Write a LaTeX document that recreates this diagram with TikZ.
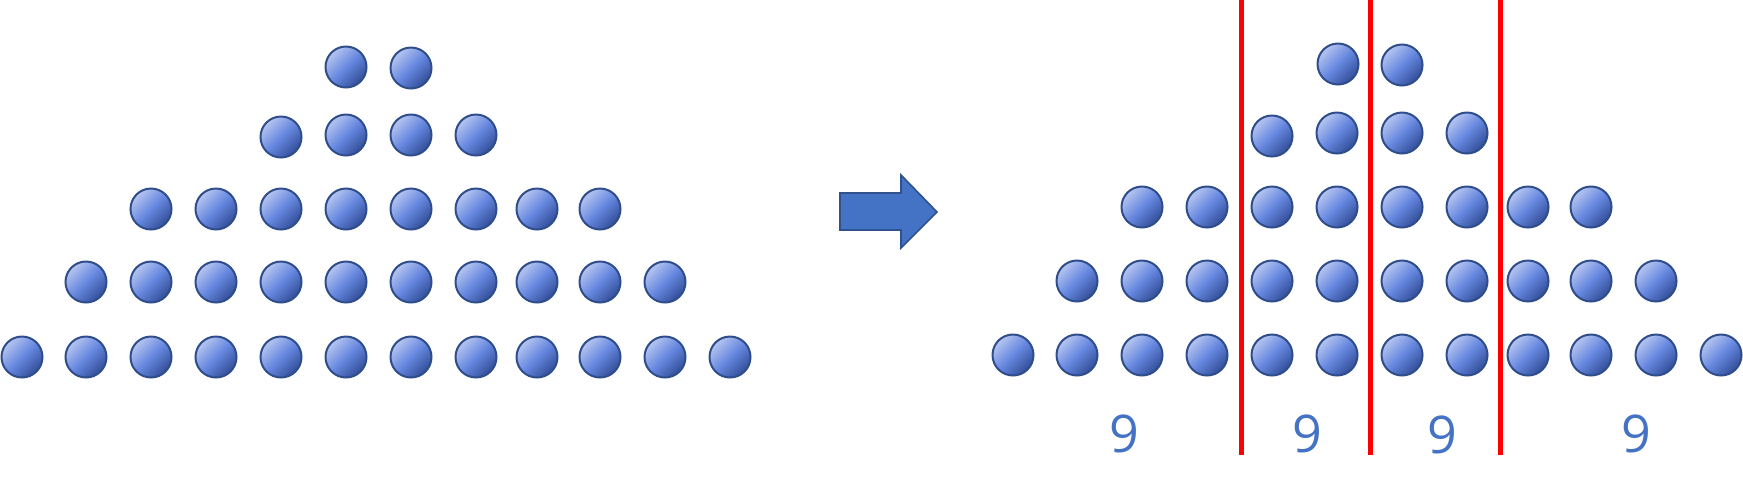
\documentclass[tikz,border=0pt]{standalone}
\usepackage{fontspec}
\newfontfamily\labelfont[Numbers=Lining]{Open Sans}
\definecolor{ballLight}{HTML}{B6C5F0}
\definecolor{ballMid}{HTML}{6788E0}
\definecolor{ballDark}{HTML}{324E98}
\definecolor{ballEdge}{HTML}{2E4D8A}
\definecolor{officeBlue}{HTML}{4472C4}
\definecolor{arrowEdge}{HTML}{2F528F}
\begin{document}
\begin{tikzpicture}[x=0.5pt,y=-0.5pt,
  ball/.style={circle, draw=ballEdge, line width=1pt, minimum size=20.5pt, inner sep=0pt,
    top color=ballLight, bottom color=ballDark, middle color=ballMid, shading angle=45},
  divider/.style={draw=red, line width=2.5pt},
  countlabel/.style={text=officeBlue, font=\labelfont\fontsize{26}{26}\selectfont, anchor=base, inner sep=0pt},
  bigarrow/.style={fill=officeBlue, draw=arrowEdge, line width=0.8pt, line join=miter}]
\useasboundingbox (0,0) rectangle (1743,495);
% ---------- left triangle ----------
\foreach \xx [count=\i] in {22,86,151,216,281,346,411,476,537,600,665,730}
  \node[ball] (La\i) at (\xx,357) {};
\foreach \xx [count=\i] in {86,151,216,281,346,411,476,537,600,665}
  \node[ball] (Lb\i) at (\xx,282) {};
\foreach \xx [count=\i] in {151,216,281,346,411,476,537,600}
  \node[ball] (Lc\i) at (\xx,209) {};
\node[ball] (Ld1) at (281,137) {};
\foreach \xx [count=\i from 2] in {346,411,476}
  \node[ball] (Ld\i) at (\xx,135) {};
\node[ball] (Le1) at (346,67) {};
\node[ball] (Le2) at (411,68) {};
% ---------- arrow ----------
\draw[bigarrow] (840,193) -- (901,193) -- (901,175) -- (937,212) -- (901,248) -- (901,230) -- (840,230) -- cycle;
% ---------- right triangle ----------
\foreach \xx [count=\i] in {1013,1077,1142,1207,1272,1337,1402,1467,1528,1591,1656,1721}
  \node[ball] (Ra\i) at (\xx,355) {};
\foreach \xx [count=\i] in {1077,1142,1207,1272,1337,1402,1467,1528,1591,1656}
  \node[ball] (Rb\i) at (\xx,281) {};
\foreach \xx [count=\i] in {1142,1207,1272,1337,1402,1467,1528,1591}
  \node[ball] (Rc\i) at (\xx,207) {};
\node[ball] (Rd1) at (1272,136) {};
\foreach \xx [count=\i from 2] in {1337,1402,1467}
  \node[ball] (Rd\i) at (\xx,133) {};
\node[ball] (Re1) at (1338,64) {};
\node[ball] (Re2) at (1402,65) {};
% ---------- dividers ----------
\coordinate (d1t) at (1241,0);   \coordinate (d1b) at (1241,455);
\coordinate (d2t) at (1370,0);   \coordinate (d2b) at (1370,455);
\coordinate (d3t) at (1500,0);   \coordinate (d3b) at (1500,455);
\draw[divider] (d1t) -- (d1b);
\draw[divider] (d2t) -- (d2b);
\draw[divider] (d3t) -- (d3b);
% ---------- labels ----------
\node[countlabel] (n1) at (1124,452) {9};
\node[countlabel] (n2) at (1307,452) {9};
\node[countlabel] (n3) at (1442,453) {9};
\node[countlabel] (n4) at (1636,452) {9};
\end{tikzpicture}
\end{document}
